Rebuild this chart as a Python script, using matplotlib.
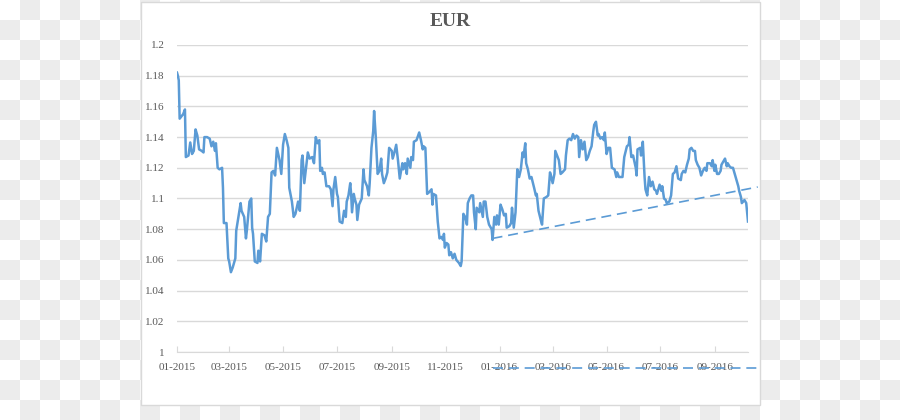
import numpy as np
import pandas as pd
import matplotlib
matplotlib.use('Agg')
import matplotlib.pyplot as plt
import matplotlib.dates as mdates
from matplotlib.colors import ListedColormap
from matplotlib.patches import Rectangle

# dias desde 01-01-2015 e cotacao EUR
dias = [0, 1, 2, 3, 7, 9, 10, 13, 15, 17, 19, 21, 23, 25, 28, 30, 31, 34, 37, 39,
        41, 43, 44, 46, 48, 51, 52, 53, 56, 58, 59, 61, 63, 66, 67, 70, 72, 73, 76, 78,
        79, 82, 84, 85, 86, 88, 91, 92, 94, 96, 99, 101, 103, 105, 107, 109, 111, 113, 116, 118,
        120, 122, 124, 126, 127, 130, 132, 134, 137, 139, 141, 142, 144, 146, 148, 150, 153, 155, 157, 159,
        161, 162, 164, 165, 167, 169, 172, 174, 176, 177, 179, 181, 182, 184, 187, 189, 191, 192, 194, 196,
        197, 198, 200, 201, 203, 204, 206, 209, 211, 212, 215, 217, 218, 220, 222, 223, 225, 227, 229, 231,
        232, 234, 236, 238, 240, 243, 244, 246, 248, 250, 252, 255, 256, 258, 260, 261, 264, 265, 267, 268,
        271, 274, 276, 278, 279, 281, 283, 285, 288, 289, 290, 293, 295, 297, 299, 301, 302, 303, 305, 307,
        308, 310, 312, 314, 316, 319, 321, 322, 324, 326, 328, 329, 331, 333, 335, 336, 338, 339, 342, 343,
        346, 347, 349, 351, 353, 356, 357, 359, 361, 362, 364, 366, 368, 370, 372, 373, 376, 378, 379, 381,
        383, 385, 387, 389, 391, 392, 394, 395, 397, 399, 401, 404, 406, 407, 409, 412, 413, 415, 418, 420,
        422, 423, 425, 427, 428, 430, 432, 434, 436, 439, 440, 442, 444, 446, 448, 450, 452, 454, 455, 457,
        459, 461, 463, 465, 467, 469, 471, 472, 474, 476, 477, 479, 481, 483, 484, 486, 488, 490, 492, 495,
        497, 498, 500, 504, 506, 509, 511, 512, 514, 516, 519, 520, 521, 524, 525, 527, 529, 530, 532, 534,
        536, 538, 540, 542, 543, 546, 548, 549, 551, 553, 554, 557, 559, 561, 563, 565, 567, 570, 571, 573,
        575, 577, 579, 580, 582, 584, 586, 587, 589, 591, 593, 595, 597, 599, 600, 603, 605, 606, 608, 609,
        611, 613, 615, 616, 618, 620, 622, 623, 625, 627, 629, 631, 633, 635, 636, 638, 639, 642, 644, 646]

eur = [1.182, 1.180, 1.177, 1.152, 1.155, 1.158, 1.127, 1.128, 1.1365, 1.129, 1.131, 1.145, 1.141, 1.132, 1.131, 1.130, 1.140, 1.140, 1.139, 1.134,
       1.137, 1.131, 1.136, 1.120, 1.119, 1.120, 1.107, 1.084, 1.084, 1.061, 1.059, 1.052, 1.055, 1.061, 1.079, 1.090, 1.097, 1.092, 1.088, 1.074,
       1.079, 1.098, 1.100, 1.081, 1.077, 1.059, 1.058, 1.066, 1.059, 1.077, 1.076, 1.072, 1.088, 1.090, 1.117, 1.118, 1.115, 1.133, 1.125, 1.116,
       1.135, 1.142, 1.138, 1.133, 1.107, 1.098, 1.088, 1.090, 1.098, 1.092, 1.125, 1.128, 1.110, 1.120, 1.130, 1.126, 1.127, 1.123, 1.140, 1.136,
       1.138, 1.118, 1.120, 1.116, 1.117, 1.108, 1.108, 1.106, 1.095, 1.106, 1.114, 1.103, 1.101, 1.085, 1.084, 1.092, 1.088, 1.098, 1.102, 1.110,
       1.103, 1.091, 1.103, 1.100, 1.096, 1.086, 1.096, 1.100, 1.119, 1.112, 1.108, 1.102, 1.110, 1.133, 1.144, 1.157, 1.139, 1.116, 1.118, 1.126,
       1.116, 1.110, 1.113, 1.117, 1.133, 1.131, 1.126, 1.130, 1.135, 1.125, 1.113, 1.123, 1.119, 1.123, 1.116, 1.126, 1.120, 1.127, 1.125, 1.137,
       1.138, 1.143, 1.138, 1.132, 1.134, 1.133, 1.103, 1.104, 1.106, 1.096, 1.103, 1.102, 1.085, 1.074, 1.075, 1.073, 1.077, 1.068, 1.071, 1.070,
       1.063, 1.065, 1.061, 1.064, 1.060, 1.058, 1.056, 1.059, 1.090, 1.088, 1.083, 1.097, 1.100, 1.102, 1.102, 1.091, 1.080, 1.094, 1.091, 1.097,
       1.088, 1.098, 1.098, 1.088, 1.083, 1.080, 1.073, 1.088, 1.083, 1.089, 1.083, 1.096, 1.093, 1.089, 1.090, 1.081, 1.082, 1.084, 1.094, 1.081,
       1.091, 1.119, 1.114, 1.119, 1.130, 1.127, 1.136, 1.123, 1.119, 1.113, 1.114, 1.107, 1.102, 1.103, 1.092, 1.085, 1.083, 1.100, 1.101, 1.102,
       1.117, 1.115, 1.110, 1.116, 1.131, 1.128, 1.125, 1.116, 1.117, 1.119, 1.128, 1.138, 1.139, 1.138, 1.142, 1.139, 1.141, 1.140, 1.127, 1.138,
       1.132, 1.137, 1.125, 1.127, 1.131, 1.134, 1.144, 1.148, 1.150, 1.141, 1.142, 1.139, 1.140, 1.138, 1.143, 1.129, 1.133, 1.133, 1.120, 1.119,
       1.114, 1.117, 1.114, 1.114, 1.127, 1.134, 1.135, 1.140, 1.127, 1.128, 1.120, 1.115, 1.132, 1.133, 1.128, 1.137, 1.114, 1.106, 1.102, 1.114,
       1.108, 1.111, 1.106, 1.105, 1.103, 1.109, 1.105, 1.108, 1.100, 1.099, 1.097, 1.098, 1.102, 1.116, 1.117, 1.121, 1.113, 1.112, 1.116, 1.118,
       1.117, 1.122, 1.126, 1.132, 1.133, 1.131, 1.131, 1.125, 1.122, 1.120, 1.115, 1.118, 1.120, 1.118, 1.123, 1.123, 1.121, 1.125, 1.118, 1.122,
       1.116, 1.116, 1.118, 1.122, 1.124, 1.126, 1.121, 1.123, 1.121, 1.120, 1.120, 1.116, 1.112, 1.108, 1.105, 1.101, 1.097, 1.099, 1.097, 1.085]

# linha de tendencia tracejada e a segunda linha abaixo do eixo
tend_dias = [357, 657]
tend_vals = [1.074, 1.1075]
base_vals = [0.9896, 0.9896]

azul = '#5B9BD5'
cinza_txt = '#595959'
serif = 'Liberation Serif'

inicio = pd.Timestamp('2015-01-01')
datas = inicio + pd.to_timedelta(dias, unit='D')
tend_datas = inicio + pd.to_timedelta(tend_dias, unit='D')

fig = plt.figure(figsize=(9, 4.2), dpi=100)

# fundo quadriculado (transparencia)
fundo = fig.add_axes([0, 0, 1, 1], zorder=-10)
linhas, colunas = np.indices((21, 45))
fundo.imshow((linhas + colunas) % 2, cmap=ListedColormap(['#ffffff', '#ececec']),
             interpolation='nearest', aspect='auto', extent=(0, 900, 420, 0))
fundo.axis('off')

# caixa branca do grafico
fig.patches.append(Rectangle((141 / 900, 1 - 404.5 / 420), 619 / 900, 403 / 420,
                             transform=fig.transFigure, facecolor='white',
                             edgecolor='#d9d9d9', linewidth=1, zorder=-5))

ax = fig.add_axes([177 / 900, 1 - 352 / 420, 571 / 900, 307 / 420])
ax.patch.set_alpha(0)

ax.plot(datas, eur, color=azul, linewidth=1.8, solid_joinstyle='round', zorder=3)
ax.plot(tend_datas, tend_vals, color=azul, linewidth=1.2, dashes=(6, 3.5),
        clip_on=False, zorder=3)
ax.plot(tend_datas, base_vals, color=azul, linewidth=1.2, dashes=(6, 3.5),
        clip_on=False, zorder=3)

ax.set_xlim(datas[0], datas[-1])
ax.set_ylim(1, 1.2)
ax.set_yticks(np.round(np.arange(1, 1.2001, 0.02), 2))
ax.yaxis.set_major_formatter(plt.FuncFormatter(lambda v, p: f'{round(v, 2):g}'))
ax.xaxis.set_major_locator(mdates.MonthLocator(bymonth=[1, 3, 5, 7, 9, 11]))
ax.xaxis.set_major_formatter(mdates.DateFormatter('%m-%Y'))

ax.grid(axis='y', color='#d9d9d9', linewidth=1)
ax.set_axisbelow(True)
for lado in ['top', 'right', 'left']:
    ax.spines[lado].set_visible(False)
ax.spines['bottom'].set_color('#d9d9d9')

ax.tick_params(axis='y', length=0, pad=9, labelsize=8, labelcolor=cinza_txt)
ax.tick_params(axis='x', length=4, direction='in', color='#d9d9d9', pad=8,
               labelsize=8, labelcolor=cinza_txt)
for rot in ax.get_xticklabels() + ax.get_yticklabels():
    rot.set_fontfamily(serif)

fig.text(450 / 900, 1 - 21 / 420, 'EUR', ha='center', va='center', fontsize=14,
         fontweight='bold', color=cinza_txt, fontfamily=serif)

fig.savefig('out.png', dpi=100)
